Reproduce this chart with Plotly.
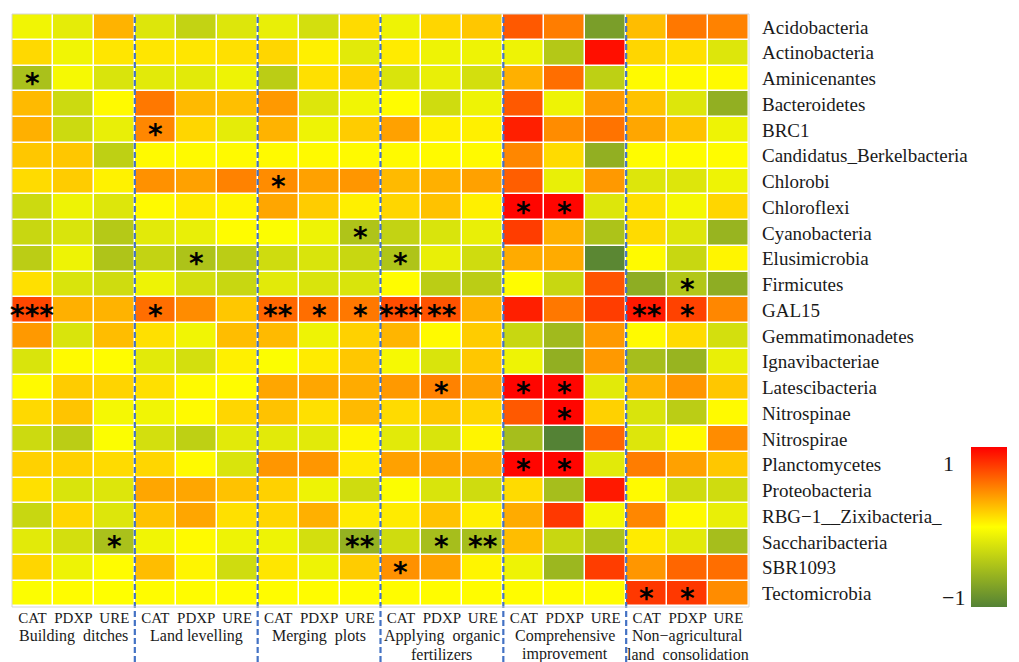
import numpy as np
import plotly.graph_objects as go

phyla = [
    "Acidobacteria", "Actinobacteria", "Aminicenantes", "Bacteroidetes", "BRC1",
    "Candidatus_Berkelbacteria", "Chlorobi", "Chloroflexi", "Cyanobacteria",
    "Elusimicrobia", "Firmicutes", "GAL15", "Gemmatimonadetes", "Ignavibacteriae",
    "Latescibacteria", "Nitrospinae", "Nitrospirae", "Planctomycetes",
    "Proteobacteria", "RBG\u22121__Zixibacteria_", "Saccharibacteria", "SBR1093",
    "Tectomicrobia",
]
enzymes = ["CAT", "PDXP", "URE"]
practices = [
    ["Building  ditches"], ["Land levelling"], ["Merging  plots"],
    ["Applying  organic", "fertilizers"], ["Comprehensive", "improvement"],
    ["Non\u2212agricultural", "land  consolidation"],
]

# correlation coefficients, one row per phylum, columns CAT / PDXP / URE
building_ditches = [
    [-0.08, -0.15, 0.30], [0.15, -0.08, 0.10], [-0.50, -0.05, -0.22],
    [0.27, -0.30, 0.02], [0.31, -0.30, -0.13], [0.22, 0.22, -0.38],
    [0.14, 0.20, 0.05], [-0.30, -0.10, -0.20], [-0.32, -0.22, -0.43],
    [-0.40, -0.10, -0.47], [0.12, -0.22, -0.28], [0.72, 0.31, 0.30],
    [0.40, -0.22, 0.26], [-0.22, 0.02, 0.01], [0.02, 0.20, 0.17],
    [0.15, 0.23, -0.06], [-0.30, -0.40, -0.02], [0.18, 0.18, 0.14],
    [0.12, -0.22, -0.20], [-0.32, 0.16, -0.20], [-0.17, -0.26, -0.50],
    [0.16, -0.10, 0.01], [-0.02, 0.01, 0.00],
]
land_levelling = [
    [-0.20, -0.35, -0.20], [0.10, 0.10, 0.12], [-0.17, -0.17, -0.10],
    [0.53, 0.27, 0.25], [0.47, 0.16, -0.15], [0.02, 0.02, 0.02],
    [0.43, 0.37, 0.49], [0.02, 0.08, 0.04], [-0.17, -0.13, 0.01],
    [-0.35, -0.48, -0.40], [-0.10, -0.26, -0.32], [0.57, 0.45, 0.22],
    [0.12, -0.08, 0.26], [-0.17, -0.26, 0.06], [0.12, 0.02, 0.01],
    [-0.08, 0.02, 0.16], [-0.26, -0.38, -0.17], [0.16, 0.02, -0.22],
    [0.35, 0.35, 0.24], [0.24, 0.35, 0.12], [-0.08, 0.02, -0.10],
    [0.26, 0.04, -0.28], [0.01, 0.01, 0.01],
]
merging_plots = [
    [-0.13, -0.26, 0.14], [0.16, 0.06, -0.17], [-0.40, 0.12, 0.18],
    [0.40, -0.20, -0.08], [0.30, -0.10, 0.20], [0.02, 0.02, 0.02],
    [0.45, 0.37, 0.41], [0.35, 0.20, 0.06], [-0.02, -0.10, -0.47],
    [-0.28, -0.22, -0.32], [-0.17, -0.22, -0.22], [0.60, 0.57, 0.53],
    [0.27, -0.10, 0.18], [-0.02, 0.08, 0.22], [0.35, 0.35, 0.33],
    [0.24, 0.12, 0.27], [-0.17, -0.17, 0.04], [0.41, 0.41, 0.08],
    [0.18, -0.10, -0.28], [0.16, 0.31, 0.08], [-0.10, -0.26, -0.62],
    [0.10, -0.10, 0.20], [0.01, 0.01, 0.01],
]
organic_fertilizers = [
    [-0.10, 0.16, 0.22], [0.08, -0.10, -0.10], [-0.22, -0.13, -0.26],
    [0.01, -0.28, -0.10], [0.37, 0.06, 0.06], [0.02, 0.02, 0.02],
    [0.27, 0.31, 0.37], [0.16, 0.24, 0.06], [-0.35, -0.22, -0.13],
    [-0.47, -0.13, -0.28], [0.01, -0.40, -0.40], [0.70, 0.68, 0.31],
    [0.29, 0.02, 0.20], [-0.05, -0.22, 0.22], [0.40, 0.49, 0.37],
    [0.14, 0.22, 0.16], [-0.17, -0.22, 0.04], [0.37, 0.37, 0.35],
    [-0.02, -0.22, -0.28], [0.08, 0.24, 0.06], [-0.28, -0.52, -0.52],
    [0.43, 0.37, 0.04], [0.01, 0.01, 0.01],
]
comprehensive = [
    [0.65, 0.51, -0.78], [-0.10, -0.44, 0.94], [0.31, 0.57, -0.38],
    [0.65, -0.10, 0.40], [0.88, 0.45, 0.55], [0.47, 0.14, -0.64],
    [0.63, -0.13, 0.40], [0.98, 0.98, -0.20], [0.76, 0.31, -0.48],
    [0.33, 0.33, -0.96], [0.01, -0.32, 0.67], [0.88, 0.53, 0.76],
    [-0.32, -0.55, 0.40], [-0.10, -0.64, 0.40], [0.98, 0.98, -0.17],
    [0.65, 0.98, 0.18], [-0.52, -1.00, 0.60], [0.98, 0.98, -0.17],
    [0.14, -0.52, 0.90], [0.33, 0.78, -0.06], [0.26, -0.32, -0.48],
    [-0.10, -0.58, 0.76], [0.01, 0.01, 0.01],
]
non_agricultural = [
    [0.26, 0.53, 0.49], [0.16, 0.12, -0.20], [0.02, 0.02, 0.02],
    [0.24, -0.20, -0.64], [0.35, 0.24, -0.10], [0.01, 0.01, 0.01],
    [-0.20, -0.20, -0.10], [0.12, -0.06, 0.16], [0.14, -0.20, -0.60],
    [0.02, -0.32, 0.04], [-0.66, -0.45, -0.66], [0.90, 0.74, 0.47],
    [0.02, 0.14, -0.26], [-0.52, -0.60, -0.13], [0.30, 0.41, 0.22],
    [-0.22, -0.40, 0.02], [-0.20, 0.02, 0.45], [0.51, 0.37, 0.22],
    [0.02, -0.28, -0.28], [0.47, 0.02, -0.13], [0.08, -0.17, -0.52],
    [0.41, 0.60, 0.57], [0.78, 0.78, 0.45],
]

# significance marks: (practice index, phylum, enzyme, stars)
significance = [
    (0, "Aminicenantes", "CAT", "*"), (0, "GAL15", "CAT", "***"),
    (0, "Saccharibacteria", "URE", "*"),
    (1, "BRC1", "CAT", "*"), (1, "Elusimicrobia", "PDXP", "*"),
    (1, "GAL15", "CAT", "*"),
    (2, "Chlorobi", "CAT", "*"), (2, "Cyanobacteria", "URE", "*"),
    (2, "GAL15", "CAT", "**"), (2, "GAL15", "PDXP", "*"), (2, "GAL15", "URE", "*"),
    (2, "Saccharibacteria", "URE", "**"),
    (3, "Elusimicrobia", "CAT", "*"), (3, "GAL15", "CAT", "***"),
    (3, "GAL15", "PDXP", "**"), (3, "Latescibacteria", "PDXP", "*"),
    (3, "Saccharibacteria", "PDXP", "*"), (3, "Saccharibacteria", "URE", "**"),
    (3, "SBR1093", "CAT", "*"),
    (4, "Chloroflexi", "CAT", "*"), (4, "Chloroflexi", "PDXP", "*"),
    (4, "Latescibacteria", "CAT", "*"), (4, "Latescibacteria", "PDXP", "*"),
    (4, "Nitrospinae", "PDXP", "*"),
    (4, "Planctomycetes", "CAT", "*"), (4, "Planctomycetes", "PDXP", "*"),
    (5, "Firmicutes", "PDXP", "*"), (5, "GAL15", "CAT", "**"),
    (5, "GAL15", "PDXP", "*"),
    (5, "Tectomicrobia", "CAT", "*"), (5, "Tectomicrobia", "PDXP", "*"),
]

groups = [building_ditches, land_levelling, merging_plots,
          organic_fertilizers, comprehensive, non_agricultural]
z = np.hstack([np.array(g) for g in groups])
n_rows, n_cols = z.shape
cols = list(range(n_cols))
col_labels = enzymes * len(practices)

serif = "Liberation Serif"
ink = "#1a1a1a"

# figure geometry (pixels)
W, H = 1019, 662
m_l, m_r, m_t, m_b = 12, 261, 14, 55
plot_w = W - m_l - m_r
plot_h = H - m_t - m_b

def px_x(px):
    return (px - m_l) / plot_w

def px_y(py):
    return (H - m_b - py) / plot_h

fig = go.Figure(go.Heatmap(
    z=z, x=cols, y=phyla,
    colorscale=[[0, "#548235"], [0.5, "#FFFF00"], [1, "#FF0000"]],
    zmin=-1, zmax=1, xgap=1.5, ygap=1.5,
    hovertemplate="%{y}<br>%{z:.2f}<extra></extra>",
    colorbar=dict(
        thickness=36, len=160, lenmode="pixels",
        x=px_x(983), xanchor="left", y=0, yanchor="bottom",
        xpad=0, ypad=0, outlinewidth=0,
        showticklabels=False, ticks="",
    ),
))

shapes = []
# dashed separators between practices
for k in range(1, len(practices)):
    xb = k * len(enzymes) - 0.5
    shapes.append(dict(type="line", xref="x", yref="paper",
                       x0=xb, x1=xb, y0=-m_b / plot_h, y1=1.0,
                       line=dict(color="#4472C4", width=2.2, dash="6px,3px")))
# thin frame around the grid
shapes.append(dict(type="rect", xref="paper", yref="paper",
                   x0=0, x1=1, y0=0, y1=1,
                   line=dict(color="#d6d6d6", width=1)))

annotations = []
for gi, phylum, enz, mark in significance:
    annotations.append(dict(
        x=gi * len(enzymes) + enzymes.index(enz), y=phylum,
        xref="x", yref="y", text=f"<b>{mark}</b>", showarrow=False,
        font=dict(family="DejaVu Sans", size=28, color="black"), yshift=-5,
    ))
line_y = [636, 654]
for gi, lines in enumerate(practices):
    for li, txt in enumerate(lines):
        annotations.append(dict(
            x=gi * len(enzymes) + 1, y=px_y(line_y[li]), xref="x", yref="paper",
            text=txt, showarrow=False, yanchor="middle", xanchor="center",
            font=dict(family=serif, size=16, color=ink),
        ))
# colour key labels
annotations.append(dict(x=px_x(968), y=px_y(463), xref="paper", yref="paper",
                        text="1", showarrow=False, xanchor="right", yanchor="middle",
                        font=dict(family=serif, size=22, color=ink)))
annotations.append(dict(x=px_x(979), y=px_y(597), xref="paper", yref="paper",
                        text="\u22121", showarrow=False, xanchor="right",
                        yanchor="middle",
                        font=dict(family=serif, size=22, color=ink)))

fig.update_layout(
    width=W, height=H,
    margin=dict(l=m_l, r=m_r, t=m_t, b=m_b),
    paper_bgcolor="white", plot_bgcolor="white",
    shapes=shapes, annotations=annotations,
    xaxis=dict(tickvals=cols, ticktext=col_labels, range=[-0.5, n_cols - 0.5],
               showgrid=False, zeroline=False, ticks="", ticklen=0,
               tickfont=dict(family=serif, size=15, color=ink)),
    yaxis=dict(type="category", autorange="reversed", side="right",
               showgrid=False, zeroline=False, ticks="", ticklabelstandoff=12,
               tickfont=dict(family=serif, size=19, color=ink)),
)

fig.write_html("out.html")
